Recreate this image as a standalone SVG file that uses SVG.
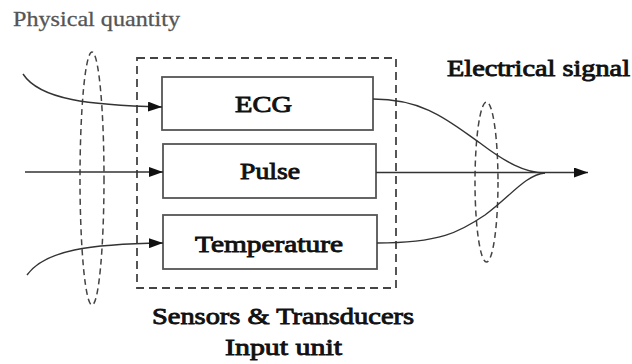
<svg xmlns="http://www.w3.org/2000/svg" width="632" height="364" viewBox="0 0 632 364">
<style>
.lbl{font-family:'Liberation Serif','Times New Roman',serif;font-weight:normal;font-size:24px;fill:#111;stroke:#111;stroke-width:0.9;paint-order:stroke}
.cap{font-family:'Liberation Serif','Times New Roman',serif;font-size:22px;fill:#555;stroke:#555;stroke-width:0.3}
.box{fill:#fff;stroke:#555;stroke-width:1.8}
.dash{fill:none;stroke:#444;stroke-width:1.8;stroke-dasharray:8 5}
.ell{fill:none;stroke:#444;stroke-width:1.5;stroke-dasharray:6 4}
.wire{fill:none;stroke:#333;stroke-width:1.4}
</style>
<defs>
<marker id="arr" viewBox="0 0 14 10" refX="14" refY="5" markerWidth="14" markerHeight="10" markerUnits="userSpaceOnUse" orient="auto">
<path d="M0,0 L14,5 L0,10 Z" fill="#111"/>
</marker>
</defs>
<rect width="632" height="364" fill="#fff"/>
<text class="cap" x="13" y="26" textLength="167" lengthAdjust="spacingAndGlyphs">Physical quantity</text>
<text class="lbl" x="447" y="76" textLength="183" lengthAdjust="spacingAndGlyphs">Electrical signal</text>
<g id="input-unit">
<rect class="dash" x="137" y="58" width="259" height="230"/>
<text class="lbl" x="152" y="324" textLength="262" lengthAdjust="spacingAndGlyphs">Sensors &amp; Transducers</text>
<text class="lbl" x="225" y="355" textLength="117" lengthAdjust="spacingAndGlyphs">Input unit</text>
</g>
<g id="ecg">
<rect class="box" x="162" y="77" width="211" height="53"/>
<text class="lbl" x="235" y="112" textLength="57" lengthAdjust="spacingAndGlyphs">ECG</text>
</g>
<g id="pulse">
<rect class="box" x="163" y="144" width="213" height="54"/>
<text class="lbl" x="240" y="179" textLength="60" lengthAdjust="spacingAndGlyphs">Pulse</text>
</g>
<g id="temperature">
<rect class="box" x="163" y="215" width="214" height="54"/>
<text class="lbl" x="195" y="252" textLength="148" lengthAdjust="spacingAndGlyphs">Temperature</text>
</g>
<g id="physical-group">
<ellipse class="ell" cx="92" cy="178.5" rx="12" ry="126.5"/>
</g>
<g id="electrical-group">
<ellipse class="ell" cx="486.5" cy="182" rx="11.5" ry="80"/>
</g>
<g id="connectors">
<path class="wire" d="M23,74 C40,100 90,105 162,107" marker-end="url(#arr)"/>
<path class="wire" d="M25,172 L163,172" marker-end="url(#arr)"/>
<path class="wire" d="M27,275 C45,250 90,244 163,243" marker-end="url(#arr)"/>
<path class="wire" d="M373,99 C425,99 450,122 480,143 C505,162 525,173 545,173"/>
<path class="wire" d="M377,243 C440,243 460,232 485,215 C510,197 525,175 545,173"/>
<path class="wire" d="M376,172.5 L588,172.5" marker-end="url(#arr)"/>
</g>
</svg>
